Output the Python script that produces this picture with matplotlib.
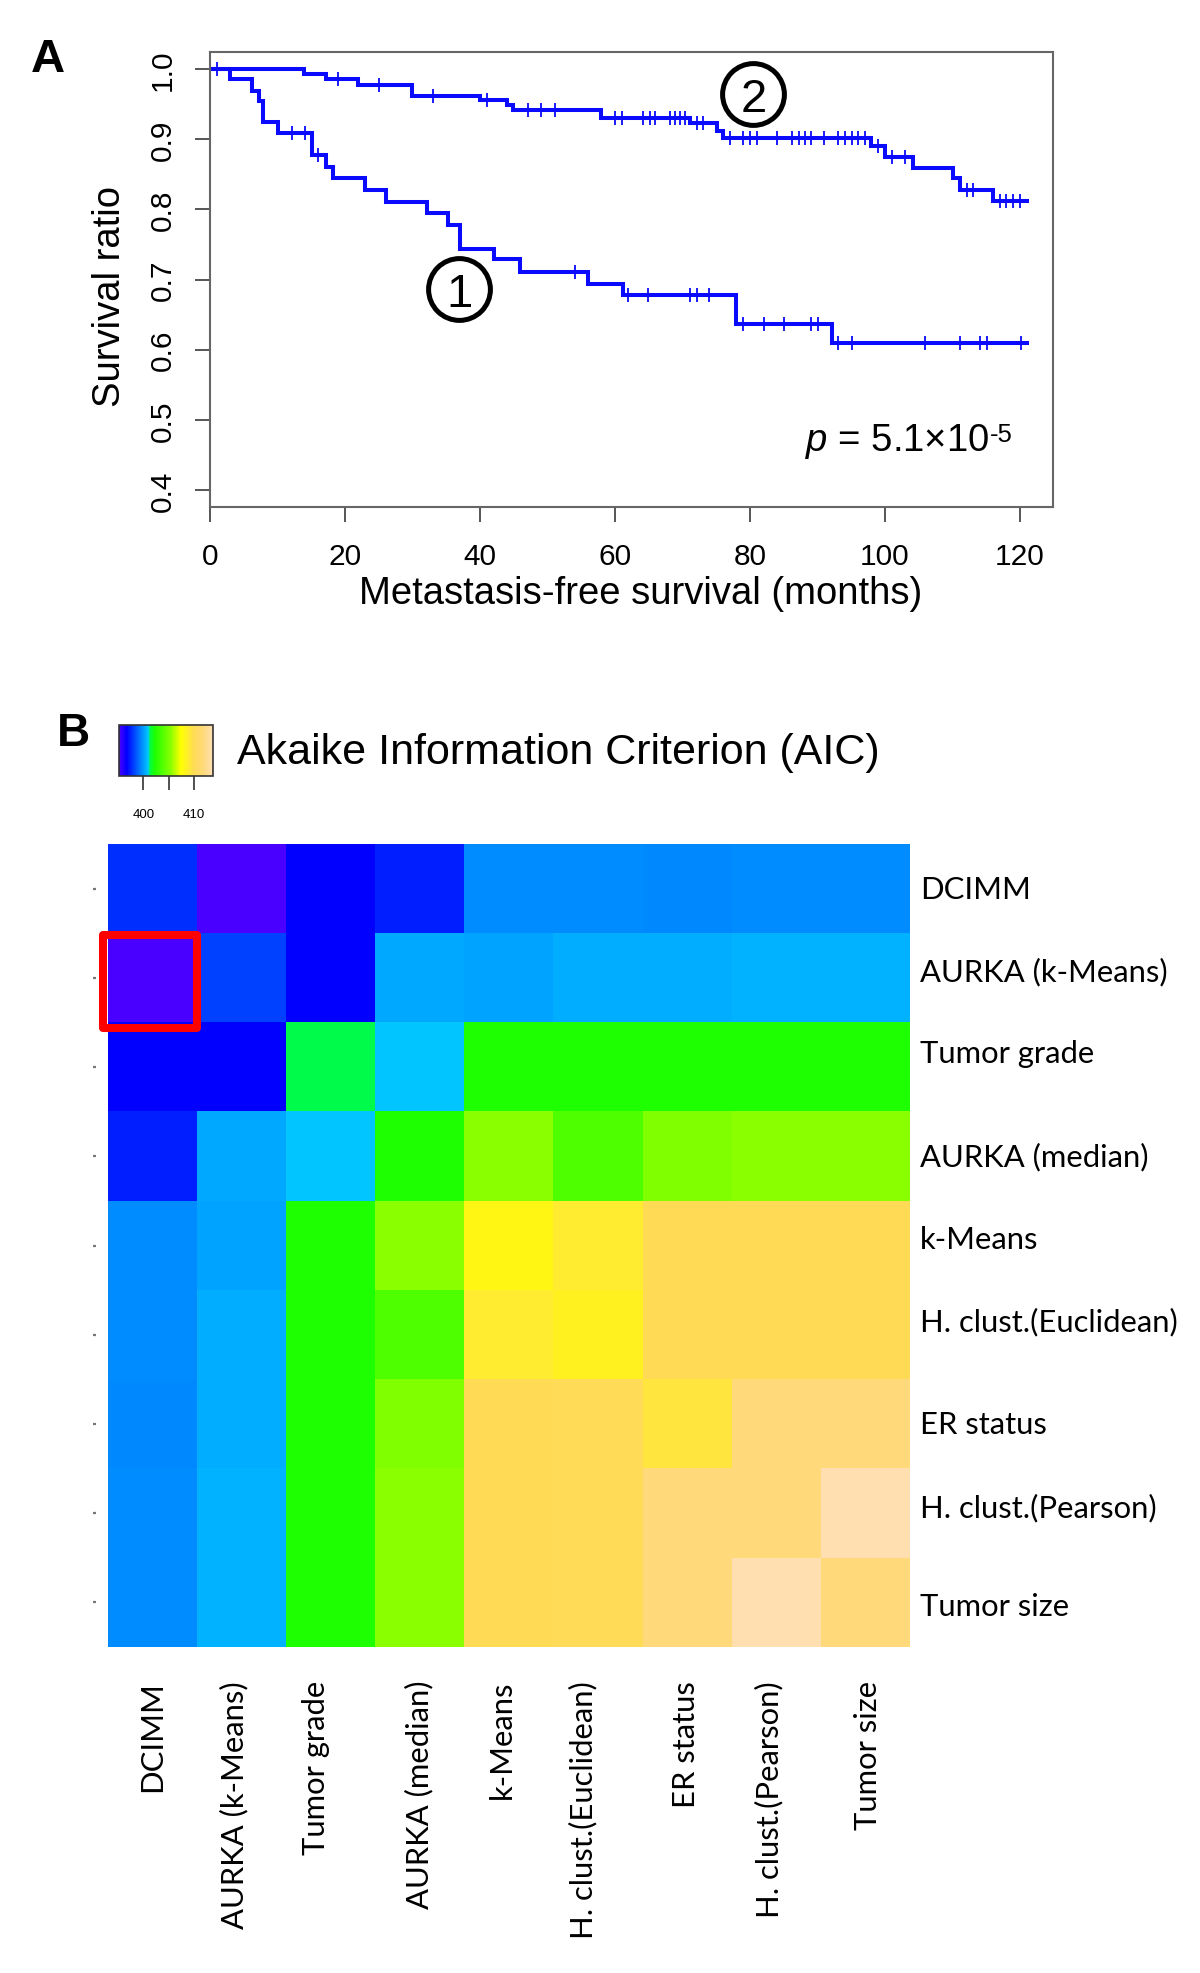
import numpy as np
import matplotlib
matplotlib.use('Agg')
import matplotlib.pyplot as plt
from matplotlib.colors import LinearSegmentedColormap
from matplotlib.patches import Rectangle

plt.rcParams['font.family'] = ['Liberation Sans', 'DejaVu Sans']
plt.rcParams['mathtext.fontset'] = 'custom'
plt.rcParams['mathtext.rm'] = 'Liberation Sans'
plt.rcParams['mathtext.it'] = 'Liberation Sans:italic'

# ---------------- Panel A data (Kaplan-Meier) ----------------
group1_event_times = [3.0, 6.2, 7.3, 7.9, 10.1, 15.1, 17.2, 18.2, 23.0, 26.1, 32.1,
                      35.2, 37.0, 42.1, 46.0, 56.0, 61.2, 78.0, 92.1]
group1_surv = [0.985, 0.969, 0.954, 0.924, 0.908, 0.877, 0.860, 0.844, 0.827, 0.810,
               0.794, 0.777, 0.744, 0.729, 0.711, 0.694, 0.678, 0.637, 0.610]
group1_censor = [12.1, 14.1, 16.0, 54.1, 62.0, 64.9, 71.1, 72.1, 74.0, 79.0, 82.1, 85.0,
                 89.1, 90.1, 93.1, 95.1, 105.9, 111.1, 114.1, 115.1, 120.1]
group1_end = 121.0

group2_event_times = [14.0, 17.2, 22.0, 30.0, 40.0, 44.0, 44.9, 58.0, 71.1, 75.1, 76.0,
                      98.0, 100.0, 104.1, 110.1, 111.1, 116.0]
group2_surv = [0.993, 0.985, 0.977, 0.962, 0.955, 0.948, 0.941, 0.930, 0.923, 0.912,
               0.902, 0.890, 0.874, 0.859, 0.844, 0.828, 0.812]
group2_censor = [1.0, 19.0, 25.0, 33.1, 41.1, 47.1, 49.0, 51.1, 60.0, 61.0, 64.1, 65.2,
                 65.9, 68.1, 68.9, 69.6, 70.4, 72.1, 73.0, 77.0, 79.0, 80.0, 81.0, 84.0,
                 86.2, 87.2, 88.1, 89.1, 91.0, 93.1, 94.1, 95.1, 96.0, 97.0, 99.0, 101.0,
                 103.0, 112.1, 113.0, 117.0, 118.0, 119.0, 120.0]
group2_end = 121.0

x_ticks_A = [0, 20, 40, 60, 80, 100, 120]
y_ticks_A = [0.4, 0.5, 0.6, 0.7, 0.8, 0.9, 1.0]
p_value_main = r"$\mathit{p}$ = 5.1×10"
p_value_exp = "-5"

# ---------------- Panel B data (AIC heatmap) ----------------
variables = ["DCIMM", "AURKA (k-Means)", "Tumor grade", "AURKA (median)", "k-Means",
             "H. clust.(Euclidean)", "ER status", "H. clust.(Pearson)", "Tumor size"]
aic_values = [
    [397.7, 395.3, 396.7, 397.4, 399.7, 399.7, 399.6, 399.7, 399.7],
    [395.3, 398.1, 396.7, 400.3, 400.2, 400.4, 400.4, 400.5, 400.5],
    [396.7, 396.7, 401.3, 400.9, 402.2, 402.2, 402.2, 402.2, 402.2],
    [397.4, 400.3, 400.9, 402.2, 405.4, 403.7, 405.1, 405.4, 405.4],
    [399.7, 400.2, 402.2, 405.4, 408.0, 408.8, 410.0, 410.0, 410.0],
    [399.7, 400.4, 402.2, 403.7, 408.8, 408.4, 410.0, 410.0, 410.0],
    [399.6, 400.4, 402.2, 405.1, 410.0, 410.1, 409.3, 411.8, 411.8],
    [399.7, 400.5, 402.2, 405.4, 410.0, 410.1, 411.8, 411.8, 413.6],
    [399.7, 400.5, 402.2, 405.4, 410.0, 410.1, 411.8, 413.6, 411.8],
]
aic_vmin, aic_vmax = 395.25, 413.65
cbar_ticks = [400, 405, 410]
cbar_ticklabels = ["400", "", "410"]
best_model = (1, 0)  # (row, col) highlighted

# hand placement nudges of the labels in the original figure (pixels)
label_nudge_px = [0, -7, -14, 0, -6, -14, 0, -6, 4]

cmap_nodes = [0.0, 0.08, 0.31, 0.33, 0.38, 0.45, 0.55, 0.66, 0.80, 0.90, 1.0]
cmap_colors = ['#4B00FF', '#0000FF', '#00C8FF', '#00FF40', '#20FF00', '#48FF00',
               '#88FF00', '#FFFF00', '#FFDC55', '#FFD97A', '#FFE0B2']
cmap = LinearSegmentedColormap.from_list('aic', list(zip(cmap_nodes, cmap_colors)), N=512)

W, H = 1200, 1974
fig = plt.figure(figsize=(W / 100, H / 100), dpi=100)

# ================= Panel A =================
axA = fig.add_axes([210 / W, 1 - 508 / H, 843 / W, 455 / H])
line_color = '#0A0AFF'


def surv_at(times, surv, t):
    idx = np.searchsorted(times, t, side='right')
    return 1.0 if idx == 0 else surv[idx - 1]


for ev, sv, cens, end in [(group1_event_times, group1_surv, group1_censor, group1_end),
                          (group2_event_times, group2_surv, group2_censor, group2_end)]:
    xs = [0.0] + list(ev) + [end]
    ys = [1.0] + list(sv) + [sv[-1]]
    axA.step(xs, ys, where='post', color=line_color, lw=2.9, solid_joinstyle='miter')
    cy = [surv_at(ev, sv, t) for t in cens]
    axA.plot(cens, cy, ls='none', marker='+', ms=9.5, mew=1.3, color=line_color)

axA.set_xlim(0, 124.9)
axA.set_ylim(0.376, 1.024)
axA.set_xticks(x_ticks_A)
axA.set_xticklabels([str(v) for v in x_ticks_A])
axA.set_yticks(y_ticks_A)
axA.set_yticklabels([f"{v:.1f}" for v in y_ticks_A], rotation=90, va='center')
axA.tick_params(axis='both', length=11, width=1.4, color='#555555', labelsize=21.5)
axA.tick_params(axis='y', pad=13)
axA.tick_params(axis='x', pad=14)
for s in axA.spines.values():
    s.set_color('#666666')
    s.set_linewidth(1.5)

axA.set_xlabel('Metastasis-free survival (months)', fontsize=27.5, va='center')
axA.xaxis.set_label_coords(0.511, -0.189)
axA.set_ylabel('Survival ratio', fontsize=27.5, va='center')
axA.yaxis.set_label_coords(-0.1186, 0.465)

# circled group labels
for lab, (mx, my) in [('1', (36.9, 0.686)), ('2', (80.5, 0.9644))]:
    axA.plot([mx], [my], marker='o', ms=44.5, mfc='white', mec='black', mew=3.6, zorder=5)
    axA.text(mx, my, lab, fontsize=34, ha='center', va='center_baseline', zorder=6)

t_main = axA.text(88.1, 0.4566, p_value_main, fontsize=27.5, ha='left', va='baseline')
axA.annotate(p_value_exp, xy=(1.0, 0.0), xycoords=t_main, xytext=(0.5, 14),
             textcoords='offset points', fontsize=18.5, ha='left', va='baseline')

fig.text(48 / W, 1 - 60 / H, 'A', fontsize=34, fontweight='bold', ha='center', va='center')

# ================= Panel B =================
axB = fig.add_axes([107.5 / W, 1 - 1648 / H, 801.5 / W, 803 / H])
im = axB.imshow(np.array(aic_values), cmap=cmap, vmin=aic_vmin, vmax=aic_vmax,
                aspect='auto', interpolation='nearest')
for s in axB.spines.values():
    s.set_visible(False)
axB.spines['left'].set_position(('outward', 8))

label_font = ['Lato', 'DejaVu Sans']
n = len(variables)
cell_px = 89.0
axB.set_yticks(range(n))
axB.set_yticklabels([])
axB.tick_params(axis='y', left=True, right=False, labelleft=False,
                length=2.0, width=1.6, color='#777777')
axB.set_xticks([])
for i, name in enumerate(variables):
    nud = label_nudge_px[i] / cell_px
    axB.text(1.0 + 11 / 801.5, i + nud, name, transform=axB.get_yaxis_transform(),
             family=label_font, fontsize=22.3, ha='left', va='center')
    axB.text(i + nud, -33 / 803, name, transform=axB.get_xaxis_transform(),
             family=label_font, fontsize=22.3, rotation=90, ha='center', va='top')

r, c = best_model
axB.add_patch(Rectangle((c - 0.545, r - 0.483), 1.05, 1.04, fill=False, ec='#FF0000',
                        lw=5.8, joinstyle='round', clip_on=False, zorder=5))

# colour key
cax = fig.add_axes([119.3 / W, 1 - 777 / H, 93.4 / W, 51 / H])
cb = fig.colorbar(im, cax=cax, orientation='horizontal', ticks=cbar_ticks)
cb.ax.set_xticklabels(cbar_ticklabels)
cb.ax.tick_params(length=10, width=1.2, labelsize=9.5, pad=13, color='#333333')
cb.outline.set_linewidth(1.2)
cb.outline.set_edgecolor('#333333')

fig.text(237 / W, 1 - 753 / H, 'Akaike Information Criterion (AIC)', fontsize=31,
         ha='left', va='center')
fig.text(73 / W, 1 - 734 / H, 'B', fontsize=33, fontweight='bold', ha='center', va='center')

fig.savefig('out.png', dpi=100)
